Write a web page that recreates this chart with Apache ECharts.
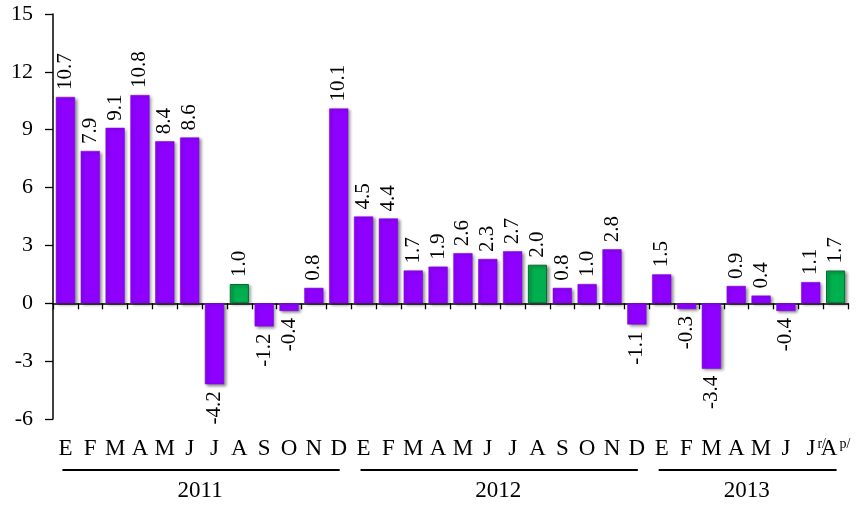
<!DOCTYPE html>
<html>
<head>
<meta charset="utf-8">
<script src="https://cdn.jsdelivr.net/npm/echarts@6/dist/echarts.min.js"></script>
<style>
  html, body { margin: 0; padding: 0; background: #ffffff; }
  #chart { width: 858px; height: 506px; }
</style>
</head>
<body>
<div id="chart"></div>
<script>
// Monthly change, per cent
const years = ['2011', '2012', '2013'];
const months2011 = ['E', 'F', 'M', 'A', 'M', 'J', 'J', 'A', 'S', 'O', 'N', 'D'];
const months2012 = ['E', 'F', 'M', 'A', 'M', 'J', 'J', 'A', 'S', 'O', 'N', 'D'];
const months2013 = ['E', 'F', 'M', 'A', 'M', 'J', 'J', 'A'];
const values2011 = [10.7, 7.9, 9.1, 10.8, 8.4, 8.6, -4.2, 1.0, -1.2, -0.4, 0.8, 10.1];
const values2012 = [4.5, 4.4, 1.7, 1.9, 2.6, 2.3, 2.7, 2.0, 0.8, 1.0, 2.8, -1.1];
const values2013 = [1.5, -0.3, -3.4, 0.9, 0.4, -0.4, 1.1, 1.7];
// r/ revised, p/ preliminary
const notes2013 = ['', '', '', '', '', '', 'r/', 'p/'];
// August of every year is shown in green
const highlightMonth = 'A';
const highlightPosition = 7;
const yMin = -6, yMax = 15, yStep = 3;

const FONT = "'Liberation Serif', 'Times New Roman', serif";
const PURPLE = '#8E00FF';
const GREEN = '#00B04F';

const monthGroups = [months2011, months2012, months2013];
const valueGroups = [values2011, values2012, values2013];
const noteGroups = [months2011.map(() => ''), months2012.map(() => ''), notes2013];

const categories = [];
const notes = [];
const values = [];
const highlighted = [];
const yearSpans = [];
monthGroups.forEach((months, g) => {
  const start = categories.length;
  months.forEach((m, i) => {
    categories.push(m);
    notes.push(noteGroups[g][i]);
    values.push(valueGroups[g][i]);
    highlighted.push(m === highlightMonth && i === highlightPosition);
  });
  yearSpans.push({ label: years[g], start: start, end: categories.length - 1 });
});

const barData = values.map((v, i) => ({
  value: v,
  itemStyle: highlighted[i]
    ? { color: GREEN, borderColor: '#0a6a33', borderWidth: 1 }
    : { color: PURPLE, borderColor: '#7a00d8', borderWidth: 0.5 },
  label: v >= 0
    ? { position: 'top', align: 'left' }
    : { position: 'bottom', align: 'right' }
}));

const chart = echarts.init(document.getElementById('chart'), null, { renderer: 'canvas' });

chart.setOption({
  animation: false,
  backgroundColor: '#ffffff',
  grid: { left: 53, right: 10, top: 14, bottom: 87, containLabel: false },
  xAxis: [
    {
      type: 'category',
      data: categories,
      position: 'bottom',
      axisLine: { onZero: true, lineStyle: { color: '#000', width: 1.5 } },
      axisTick: { show: true, inside: false, length: 6, lineStyle: { color: '#000', width: 1.3 } },
      axisLabel: { show: false },
      splitLine: { show: false }
    },
    {
      type: 'category',
      data: categories,
      position: 'bottom',
      axisLine: { show: false, onZero: false },
      axisTick: { show: false },
      splitLine: { show: false },
      axisLabel: {
        show: true,
        interval: 0,
        margin: 18,
        color: '#000',
        fontFamily: FONT,
        fontSize: 23,
        formatter: function (val, idx) {
          const n = notes[idx];
          if (!n) return '{m|' + val + '}';
          if (n === 'r/') return '{pad|}{m|' + val + '}{s|' + n + '}';
          return '{m|' + val + '}{s|' + n + '}';
        },
        rich: {
          m: { fontFamily: FONT, fontSize: 23, color: '#000' },
          s: { fontFamily: FONT, fontSize: 14, color: '#000', verticalAlign: 'top', padding: [0, 0, 8, 2] },
          pad: { width: 11 }
        }
      }
    }
  ],
  yAxis: {
    type: 'value',
    min: yMin,
    max: yMax,
    interval: yStep,
    axisLine: { show: true, lineStyle: { color: '#000', width: 1.5 } },
    axisTick: { show: true, inside: false, length: 8, lineStyle: { color: '#000', width: 1.3 } },
    axisLabel: { color: '#000', fontFamily: FONT, fontSize: 22, margin: 20 },
    splitLine: { show: false }
  },
  series: [{
    type: 'bar',
    xAxisIndex: 0,
    data: barData,
    barCategoryGap: '23%',
    itemStyle: {
      shadowColor: 'rgba(0,0,0,0.45)',
      shadowBlur: 3,
      shadowOffsetX: 2,
      shadowOffsetY: 1.5
    },
    label: {
      show: true,
      rotate: 90,
      distance: 7,
      verticalAlign: 'middle',
      color: '#000',
      fontFamily: FONT,
      fontSize: 21,
      formatter: p => p.value.toFixed(1)
    }
  }]
});

// Year brackets under the month labels
const graphics = [];
yearSpans.forEach(span => {
  const x0 = chart.convertToPixel({ xAxisIndex: 0 }, span.start);
  const x1 = chart.convertToPixel({ xAxisIndex: 0 }, span.end);
  graphics.push({
    type: 'line',
    shape: { x1: x0 - 3, y1: 470, x2: x1 + 1, y2: 470 },
    style: { stroke: '#000', lineWidth: 2 }
  });
  graphics.push({
    type: 'text',
    x: (x0 + x1) / 2 - 2,
    y: 491,
    style: {
      text: span.label,
      fill: '#000',
      font: '23px ' + FONT,
      align: 'center',
      verticalAlign: 'middle'
    }
  });
});
chart.setOption({ graphic: graphics });
</script>
</body>
</html>
